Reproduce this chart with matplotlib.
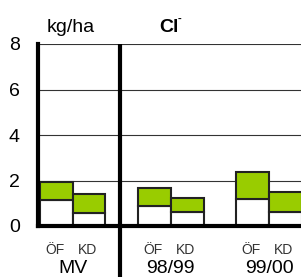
import matplotlib
matplotlib.use("Agg")
import matplotlib.pyplot as plt
import numpy as np

plt.rcParams["font.family"] = ["Liberation Sans", "DejaVu Sans"]

# data (kg/ha)
periods = ["MV", "98/99", "99/00"]
sites = ["ÖF", "KD"]
lower_part = [[1.14, 0.58], [0.88, 0.60], [1.17, 0.62]]   # white bottom segment
total = [[1.92, 1.41], [1.66, 1.22], [2.36, 1.48]]        # top of green segment
yticks = [0, 2, 4, 6, 8]


def main():
    fig = plt.figure(figsize=(3.01, 2.77), dpi=100)
    ax = fig.add_axes([38 / 301, 51 / 277, 263 / 301, 182 / 277])

    green = "#99cc00"
    for g, period in enumerate(periods):
        for s, site in enumerate(sites):
            xpos = 3 * g + s + 0.5
            low = lower_part[g][s]
            top = total[g][s]
            ax.bar(xpos, low, width=1.0, color="white", edgecolor="#222222",
                   linewidth=1.5, zorder=3)
            ax.bar(xpos, top - low, bottom=low, width=1.0, color=green,
                   edgecolor="#222222", linewidth=1.5, zorder=3)
            ax.text(xpos - 0.05, -1.05, site, ha="center", va="center",
                    fontsize=10, color="#333333")
        ax.text(3 * g + 1, -1.88, period, ha="center", va="center", fontsize=14)

    # gridlines
    for yv in yticks[1:]:
        ax.axhline(yv, color="#333333", linewidth=0.8, zorder=1)

    # separator between MV and the yearly periods
    ax.plot([2.45, 2.45], [8, -3], color="black", linewidth=3, clip_on=False,
            zorder=4, solid_capstyle="butt")

    ax.set_xlim(-0.06, 7.98)
    ax.set_ylim(0, 8)
    ax.set_yticks(yticks)
    ax.set_xticks([])
    ax.tick_params(axis="y", length=0, labelsize=14, pad=13)

    ax.spines["top"].set_visible(False)
    ax.spines["right"].set_visible(False)
    ax.spines["left"].set_linewidth(3)
    ax.spines["bottom"].set_linewidth(3)
    ax.spines["left"].set_zorder(5)
    ax.spines["bottom"].set_zorder(5)

    fig.text(71 / 301, 1 - 28 / 277, "kg/ha", ha="center", va="center", fontsize=14)
    fig.text(169 / 301, 1 - 27 / 277, "Cl", ha="center", va="center",
             fontsize=14, fontweight="bold")
    fig.text(179.5 / 301, 1 - 19 / 277, "-", ha="center", va="center",
             fontsize=8, fontweight="bold")

    fig.savefig("out.png", dpi=100)


if __name__ == "__main__":
    main()
